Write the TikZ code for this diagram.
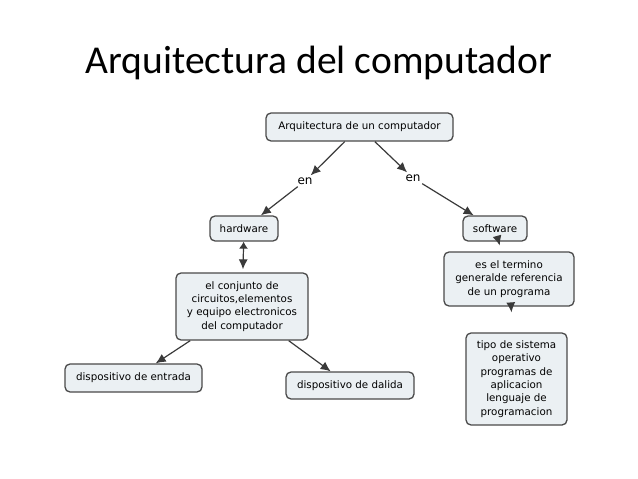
\documentclass[tikz,border=0pt]{standalone}
\usepackage{fontspec}
\setmainfont{Carlito}
\newfontfamily\cmapfont{DejaVu Sans}
\usetikzlibrary{arrows.meta}
\definecolor{boxfill}{HTML}{EBF0F3}
\definecolor{boxline}{HTML}{4A4A4A}
\definecolor{linkline}{HTML}{3A3A3A}
\tikzset{
  concept/.style={draw=boxline, line width=1.3pt, fill=boxfill, rounded corners=5pt, align=center, inner sep=0pt, font=\cmapfont\fontsize{10.3}{13.3}\selectfont},
  linkword/.style={inner sep=2pt, font=\cmapfont\fontsize{12}{14}\selectfont},
  arr/.style={draw=linkline, line width=1.2pt, -{Latex[length=10pt,width=9pt]}}
}
\begin{document}
\begin{tikzpicture}[x=1pt,y=-1pt]
\useasboundingbox (0,0) rectangle (638,479);
\node[anchor=base, inner sep=0pt, font=\fontsize{39.5}{46}\selectfont] (title) at (319,73) {Arquitectura del computador};

\node[concept, minimum width=187pt, minimum height=28pt] (arq) at (359.5,127) {Arquitectura de un computador};
\node[concept, minimum width=68pt, minimum height=25pt] (hw) at (244,228.5) {hardware};
\node[concept, minimum width=64pt, minimum height=25pt] (sw) at (495,228.5) {software};
\node[concept, minimum width=132pt, minimum height=67pt] (conj) at (242,306.5) {el conjunto de\\circuitos,elementos\\y equipo electronicos\\del computador};
\node[concept, minimum width=130pt, minimum height=54pt] (es) at (509,279) {es el termino\\generalde referencia\\de un programa};
\node[concept, minimum width=101pt, minimum height=92pt] (tipo) at (516.5,379) {tipo de sistema\\operativo\\programas de\\aplicacion\\lenguaje de\\programacion};
\node[concept, minimum width=137pt, minimum height=28pt] (ent) at (133.5,378) {dispositivo de entrada};
\node[concept, minimum width=128pt, minimum height=27pt] (dal) at (350,385.5) {dispositivo de dalida};
\node[linkword] (en1) at (305,181) {en};
\node[linkword] (en2) at (413,178) {en};

\path[arr] (arq) -- (en1);
\path[arr] (en1) -- (hw);
\path[arr] (arq) -- (en2);
\path[arr] (en2) -- (sw);
\path[arr, {Latex[length=7pt,width=9pt]}-{Latex[length=10pt,width=9pt]}, shorten >=3pt] (hw) -- (conj);
\path[arr] (conj) -- (ent);
\path[arr] (conj) -- (dal);
\path[arr, shorten >=6pt] (sw) -- (es);
\path[arr, shorten >=20pt] (es) -- (tipo);
\end{tikzpicture}
\end{document}
